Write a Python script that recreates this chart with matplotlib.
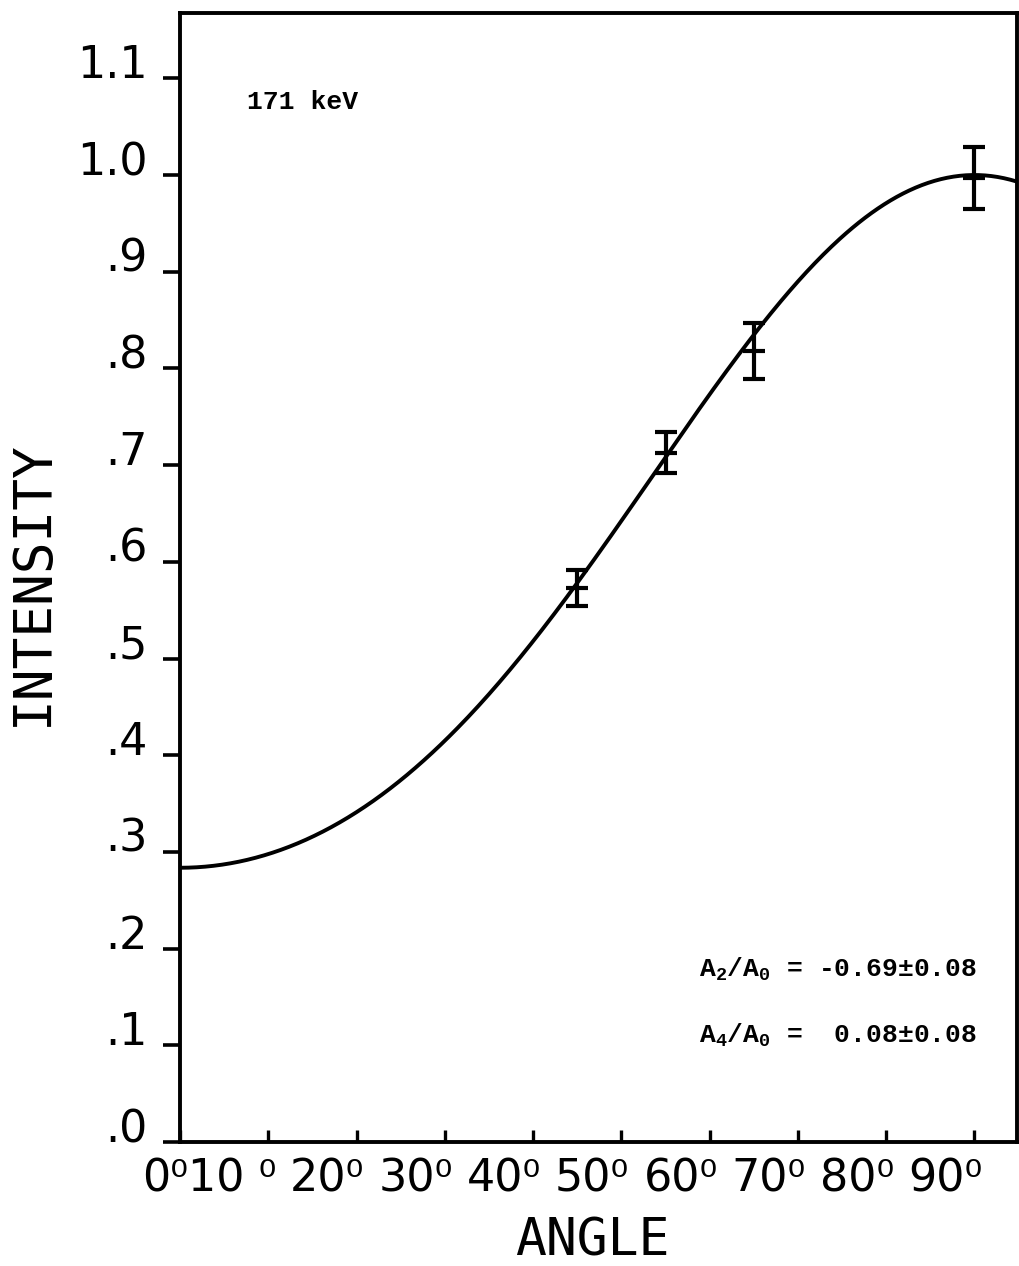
import numpy as np
import matplotlib

matplotlib.use("Agg")
import matplotlib.pyplot as plt
from matplotlib.transforms import ScaledTranslation

plt.rcParams["font.family"] = ["DejaVu Sans"]
plt.rcParams["mathtext.fontset"] = "custom"
plt.rcParams["mathtext.rm"] = "Liberation Mono:bold"

# angular distribution coefficients (fit result)
A2_A0 = -0.69
A4_A0 = 0.08

# measured points: angle (deg), normalized intensity, error
angles = [45, 55, 65, 90]
intensity = [0.573, 0.713, 0.818, 0.997]
errors = [0.019, 0.021, 0.029, 0.032]

xticks = [0, 10, 20, 30, 40, 50, 60, 70, 80, 90]
xlabels = ["0⁰", "10 ⁰", "20⁰", "30⁰", "40⁰", "50⁰", "60⁰", "70⁰", "80⁰", "90⁰"]
yticks = [0.0, 0.1, 0.2, 0.3, 0.4, 0.5, 0.6, 0.7, 0.8, 0.9, 1.0, 1.1]
ylabels = [".0", ".1", ".2", ".3", ".4", ".5", ".6", ".7", ".8", ".9", "1.0", "1.1"]


def w_theta(theta_deg):
    c = np.cos(np.radians(theta_deg))
    p2 = 0.5 * (3 * c**2 - 1)
    p4 = (35 * c**4 - 30 * c**2 + 3) / 8
    return 1 + A2_A0 * p2 + A4_A0 * p4


fig = plt.figure(figsize=(10.19, 12.66), dpi=100)
ax = fig.add_axes([0.1766, 0.0979, 0.8213, 0.8918])

# fitted W(theta), normalised to 90 deg
theta = np.linspace(0, 95, 400)
ax.plot(theta, w_theta(theta) / w_theta(90), color="black", lw=2.8)

ax.errorbar(angles, intensity, yerr=errors, fmt="_", color="black",
            ms=16, mew=3, elinewidth=3, capsize=8, capthick=3.2)

ax.set_xlim(0, 94.8)
ax.set_ylim(0, 1.1675)

for side in ["left", "bottom", "top", "right"]:
    ax.spines[side].set_linewidth(2.8)

ax.set_xticks(xticks)
ax.set_xticklabels(xlabels, fontsize=32)
ax.set_yticks(yticks)
ax.set_yticklabels(ylabels, fontsize=32)
ax.tick_params(axis="x", direction="in", length=9, width=2.4, pad=11)
ax.tick_params(axis="y", direction="out", length=12, width=2.6, pad=11)

shift = ScaledTranslation(8 / 100, 0, fig.dpi_scale_trans)
for lab in ax.get_xticklabels():
    lab.set_horizontalalignment("right")
    lab.set_transform(lab.get_transform() + shift)
for lab in ax.get_yticklabels():
    lab.set_verticalalignment("baseline")

note = dict(fontsize=19, family="Liberation Mono", weight="bold",
            va="center", ha="left")
ax.text(7.6, 1.075, "171 keV", **note)
ax.text(58.8, 0.179, r"A$_2$/A$_0$ = -0.69±0.08", **note)
ax.text(58.8, 0.110, r"A$_4$/A$_0$ =  0.08±0.08", **note)

fig.text(33 / 1019, 1 - 583 / 1266, "INTENSITY", rotation=90, fontsize=38,
         family="DejaVu Sans Mono", ha="center", va="center")
fig.text(592 / 1019, 1 - 1241 / 1266, "ANGLE", fontsize=37,
         family="DejaVu Sans Mono", ha="center", va="center")

fig.savefig("out.png", dpi=100)
